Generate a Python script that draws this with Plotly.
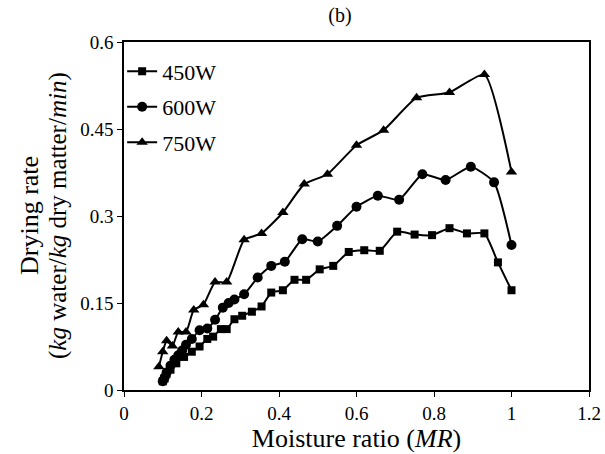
import plotly.graph_objects as go

x_450 = [0.10, 0.105, 0.11, 0.12, 0.135, 0.155, 0.175, 0.195, 0.215, 0.23, 0.25, 0.265, 0.285, 0.305,
         0.33, 0.355, 0.38, 0.41, 0.44, 0.47, 0.505, 0.54, 0.58, 0.62, 0.66, 0.705, 0.75, 0.795,
         0.84, 0.885, 0.93, 0.965, 1.0]
y_450 = [0.015, 0.02, 0.028, 0.035, 0.046, 0.057, 0.066, 0.075, 0.088, 0.092, 0.105, 0.105, 0.122, 0.128,
         0.135, 0.144, 0.168, 0.172, 0.19, 0.19, 0.208, 0.214, 0.238, 0.241, 0.24, 0.273, 0.268, 0.267,
         0.279, 0.27, 0.27, 0.22, 0.172]

x_600 = [0.10, 0.105, 0.11, 0.12, 0.13, 0.14, 0.15, 0.16, 0.175, 0.195, 0.215, 0.235, 0.255, 0.27, 0.285,
         0.31, 0.345, 0.38, 0.415, 0.46, 0.5, 0.55, 0.6, 0.655, 0.71, 0.77, 0.83, 0.895, 0.955, 1.0]
y_600 = [0.015, 0.022, 0.03, 0.042, 0.052, 0.06, 0.068, 0.078, 0.088, 0.103, 0.106, 0.121, 0.142, 0.15, 0.156,
         0.165, 0.194, 0.214, 0.221, 0.26, 0.256, 0.283, 0.316, 0.335, 0.328, 0.372, 0.362, 0.385, 0.358, 0.25]

x_750 = [0.09, 0.10, 0.11, 0.125, 0.14, 0.16, 0.18, 0.205, 0.235, 0.265, 0.31, 0.355, 0.41, 0.465, 0.525,
         0.6, 0.67, 0.755, 0.84, 0.93, 1.0]
y_750 = [0.04, 0.066, 0.085, 0.076, 0.1, 0.1, 0.138, 0.147, 0.186, 0.186, 0.259, 0.27, 0.306, 0.355, 0.372,
         0.422, 0.448, 0.504, 0.513, 0.544, 0.376]

series = [
    ("450W", x_450, y_450, "square", 8),
    ("600W", x_600, y_600, "circle", 10),
    ("750W", x_750, y_750, "triangle-up", 10),
]

x_ticks = [0, 0.2, 0.4, 0.6, 0.8, 1.0, 1.2]
y_ticks = [0, 0.15, 0.3, 0.45, 0.6]

y_title_lines = ["Drying rate", "(<i>kg</i> water/<i>kg</i> dry matter/<i>min</i>)"]

FONT = "Liberation Serif, Times New Roman, serif"
W, H = 605, 454
ML, MR, MT, MB = 124, 16, 42, 64
PW = W - ML - MR

fig = go.Figure()
for name, xs, ys, sym, sz in series:
    fig.add_trace(go.Scatter(
        x=xs, y=ys, name=name, mode="lines+markers", legendgroup=name,
        line=dict(color="black", width=2, shape="spline", smoothing=0.5),
        marker=dict(symbol=sym, size=sz, color="black"),
    ))

# y-axis title, two tightly spaced lines
for txt, px, fs in zip(y_title_lines, [29, 58], [26, 25]):
    fig.add_annotation(
        text=txt, xref="paper", yref="paper", x=(px - ML) / PW, y=0.5,
        xanchor="center", yanchor="middle", textangle=-90, showarrow=False,
        font=dict(family=FONT, size=fs, color="black"),
    )

fig.update_layout(
    width=W, height=H,
    paper_bgcolor="white", plot_bgcolor="white",
    margin=dict(l=ML, r=MR, t=MT, b=MB),
    font=dict(family=FONT, size=19, color="black"),
    title=dict(text="(b)", x=340 / W, xanchor="center", y=1 - 15 / H, yanchor="middle",
               font=dict(family=FONT, size=20, color="black")),
    showlegend=True,
    legend=dict(x=-0.004, y=0.976, xanchor="left", yanchor="top",
                bgcolor="rgba(0,0,0,0)", itemwidth=30, tracegroupgap=4,
                font=dict(family=FONT, size=22, color="black")),
)
fig.update_xaxes(
    range=[0, 1.2], tickvals=x_ticks, ticks="outside", ticklen=5, tickcolor="black",
    showline=True, linecolor="black", linewidth=1.5, mirror=True, showgrid=False, zeroline=False,
    tickfont=dict(family=FONT, size=19, color="black"), automargin=False,
    title=dict(text="Moisture ratio (<i>MR</i>)", font=dict(family=FONT, size=26, color="black"), standoff=5),
)
fig.update_yaxes(
    range=[0, 0.6], tickvals=y_ticks, ticks="outside", ticklen=5, tickcolor="black",
    showline=True, linecolor="black", linewidth=1.5, mirror=True, showgrid=False, zeroline=False,
    tickfont=dict(family=FONT, size=19, color="black"), automargin=False,
)

fig.write_html("out.html", config={"displayModeBar": False},
               post_script="document.body.style.margin='0';")
